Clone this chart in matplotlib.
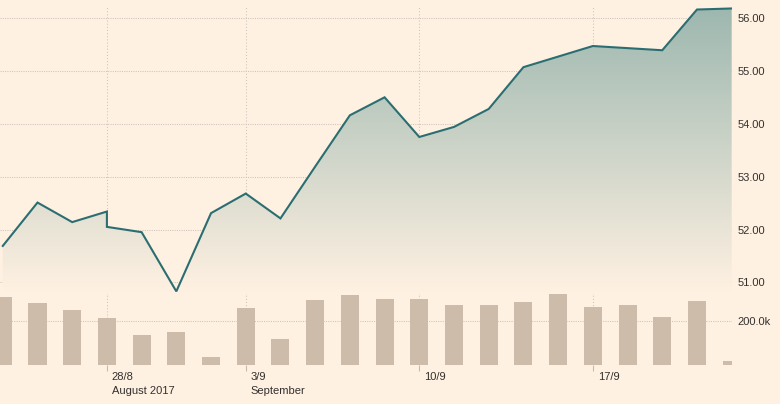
import matplotlib
matplotlib.use('Agg')
import matplotlib.pyplot as plt
import numpy as np
from matplotlib.patches import Polygon
from matplotlib.colors import LinearSegmentedColormap
from matplotlib.transforms import ScaledTranslation

# торговые дни по индексу, у 28/8 две точки (разрыв линии)
price_x = [0, 1, 2, 3, 3, 4, 5, 6, 7, 8, 9, 10, 11, 12, 13, 14, 15, 16, 17, 18, 19, 20, 21]
price = [51.69, 52.51, 52.14, 52.34, 52.05, 51.95, 50.83, 52.31, 52.68, 52.21, 53.19,
         54.16, 54.50, 53.75, 53.94, 54.28, 55.07, 55.27, 55.47, 55.43, 55.39, 56.16, 56.18]

vol_x = list(range(22))
volume = [312, 284, 252, 215, 137, 151, 35, 261, 118, 298, 321, 303, 303, 275, 275,
          289, 326, 266, 275, 220, 294, 17]  # тыс.

tick_pos = [3, 7, 12, 17]
tick_labels = ['28/8\nAugust 2017', '3/9\nSeptember', '10/9', '17/9']

price_ticks = [51, 52, 53, 54, 55, 56]
vol_ticks = [200]

bg = '#fff1e2'
line_col = '#2b6e72'
bar_col = '#cebcab'
grid_col = '#cdc4b9'
text_col = '#33302e'

plt.rcParams['font.family'] = ['Liberation Sans', 'DejaVu Sans']

fig = plt.figure(figsize=(7.8, 4.04), dpi=100, facecolor=bg)

# Область цены и область объёма
ax = fig.add_axes([0.0, 0.2748, 0.9385, 0.7104], facecolor=bg)
axv = fig.add_axes([0.0, 0.0973, 0.9385, 0.1775], facecolor=bg, sharex=ax)

xmin, xmax = -0.08, 21.01
ymin, ymax = 50.80, 56.227

# градиентная заливка под линией
cmap = LinearSegmentedColormap.from_list('fade', [bg, '#9cb7af'])
grad = np.linspace(0, 1, 256).reshape(-1, 1)
im = ax.imshow(grad, cmap=cmap, aspect='auto', origin='lower',
               extent=[xmin, xmax, ymin, ymax], zorder=1)
verts = [(price_x[0], ymin)] + list(zip(price_x, price)) + [(price_x[-1], ymin)]
poly = Polygon(verts, closed=True, facecolor='none', edgecolor='none')
ax.add_patch(poly)
im.set_clip_path(poly)

ax.plot(price_x, price, color=line_col, lw=1.5, zorder=3, solid_joinstyle='miter')

ax.set_xlim(xmin, xmax)
ax.set_ylim(ymin, ymax)

axv.bar(vol_x, volume, width=0.52, color=bar_col, zorder=2)
axv.set_ylim(0, 330)

for a in (ax, axv):
    for s in a.spines.values():
        s.set_visible(False)
    a.yaxis.tick_right()
    a.tick_params(axis='y', length=0, pad=4, labelsize=8, labelcolor=text_col)
    a.grid(axis='y', color=grid_col, lw=0.75, linestyle=(0, (1, 1.2)), zorder=0)
    a.grid(axis='x', color=grid_col, lw=0.75, linestyle=(0, (1, 2)), zorder=0)
    a.set_axisbelow(True)

ax.set_yticks(price_ticks)
ax.set_yticklabels(['%.2f' % v for v in price_ticks])
axv.set_yticks(vol_ticks)
axv.set_yticklabels(['%.1fk' % v for v in vol_ticks])

ax.set_xticks(tick_pos)
ax.tick_params(axis='x', length=0, labelbottom=False)
axv.set_xticks(tick_pos)
axv.set_xticklabels(tick_labels)
axv.tick_params(axis='x', length=4, width=0.8, color='#c4bbb0', pad=1,
                labelsize=8, labelcolor=text_col)

# подписи дат сдвинуты вправо от засечки
offset = ScaledTranslation(5 / 100, 0, fig.dpi_scale_trans)
for lab in axv.get_xticklabels():
    lab.set_horizontalalignment('left')
    lab.set_verticalalignment('top')
    lab.set_linespacing(1.6)
    lab.set_transform(lab.get_transform() + offset)

fig.savefig('out.png', dpi=100, facecolor=bg)
